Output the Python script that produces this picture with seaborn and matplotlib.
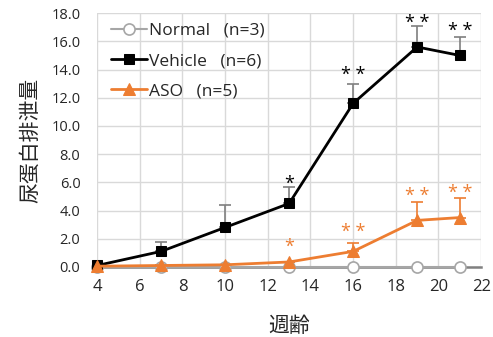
import matplotlib
matplotlib.use("Agg")
import matplotlib.pyplot as plt
import seaborn as sns
import numpy as np
import pandas as pd

weeks = [4, 7, 10, 13, 16, 19, 21]
normal = [0.0, 0.0, 0.0, 0.0, 0.0, 0.0, 0.0]
vehicle = [0.1, 1.1, 2.8, 4.5, 11.6, 15.6, 15.0]
vehicle_err = [0.0, 0.7, 1.6, 1.2, 1.4, 1.5, 1.3]
aso = [0.05, 0.1, 0.15, 0.35, 1.1, 3.3, 3.5]
aso_err = [0.0, 0.0, 0.0, 0.0, 0.6, 1.3, 1.4]
vehicle_stars = {13: ("*", 5.9), 16: ("* *", 13.6), 19: ("* *", 17.3), 21: ("* *", 16.7)}
aso_stars = {13: ("*", 1.45), 16: ("* *", 2.5), 19: ("* *", 5.0), 21: ("* *", 5.25)}
labels = ["Normal   (n=3)", "Vehicle   (n=6)", "ASO   (n=5)"]

sns.set_theme(style="white")
plt.rcParams['font.family'] = ['Open Sans', 'Noto Sans CJK JP', 'DejaVu Sans']

fig = plt.figure(figsize=(4.93, 3.37), dpi=100)
ax = fig.add_axes([0.197, 0.208, 0.779, 0.753])

orange = "#ED7D31"
df_n = pd.DataFrame({"x": weeks, "y": normal})
df_v = pd.DataFrame({"x": weeks, "y": vehicle})
df_a = pd.DataFrame({"x": weeks, "y": aso})

sns.lineplot(data=df_n, x="x", y="y", ax=ax, color="#A6A6A6", lw=1.5, marker="o",
             markersize=8, markerfacecolor="white", markeredgecolor="#A6A6A6",
             markeredgewidth=1.2, label=labels[0], zorder=3, clip_on=False)
ax.errorbar(weeks, vehicle, yerr=[np.zeros(len(weeks)), vehicle_err], fmt="none",
            ecolor="#7F7F7F", elinewidth=1.2, capsize=4, capthick=1.2, zorder=2)
sns.lineplot(data=df_v, x="x", y="y", ax=ax, color="black", lw=2, marker="s",
             markersize=7, markerfacecolor="black", markeredgecolor="black",
             label=labels[1], zorder=4, clip_on=False)
ax.errorbar(weeks, aso, yerr=[np.zeros(len(weeks)), aso_err], fmt="none",
            ecolor=orange, elinewidth=1.2, capsize=4, capthick=1.2, zorder=2)
sns.lineplot(data=df_a, x="x", y="y", ax=ax, color=orange, lw=2, marker="^",
             markersize=9, markerfacecolor=orange, markeredgecolor=orange,
             label=labels[2], zorder=5, clip_on=False)

for x, (s, y) in vehicle_stars.items():
    ax.text(x, y, s, ha="center", va="center", fontsize=13, color="black")
for x, (s, y) in aso_stars.items():
    ax.text(x, y, s, ha="center", va="center", fontsize=13, color=orange)

ax.set_xlim(4, 22)
ax.set_ylim(0, 18)
ax.set_xticks(range(4, 23, 2))
ax.set_xticks(range(5, 22, 2), minor=True)
ax.set_yticks(np.arange(0, 18.1, 2))
ax.set_yticklabels([f"{v:.1f}" for v in np.arange(0, 18.1, 2)])
ax.grid(True, color="#D9D9D9", lw=1)
ax.set_axisbelow(True)
for s in ["top", "right", "left"]:
    ax.spines[s].set_visible(False)
ax.spines["bottom"].set_color("#808080")
ax.spines["bottom"].set_linewidth(1.8)
ax.tick_params(axis="x", which="both", direction="in", length=4, color="#808080",
               labelsize=12, pad=9)
ax.tick_params(axis="y", length=0, labelsize=10.5, pad=12)

ax.set_xlabel("週齢", fontsize=15, family=['Noto Sans CJK JP'], labelpad=14)
ax.set_ylabel("尿蛋白排泄量", fontsize=15, family=['Noto Sans CJK JP'], labelpad=7)

leg = ax.legend(loc="upper left", frameon=False, fontsize=12.5, handlelength=2.1,
                handletextpad=0.1, labelspacing=0.82, borderaxespad=0.0,
                bbox_to_anchor=(0.018, 0.99))

fig.savefig("out.png", dpi=100)
